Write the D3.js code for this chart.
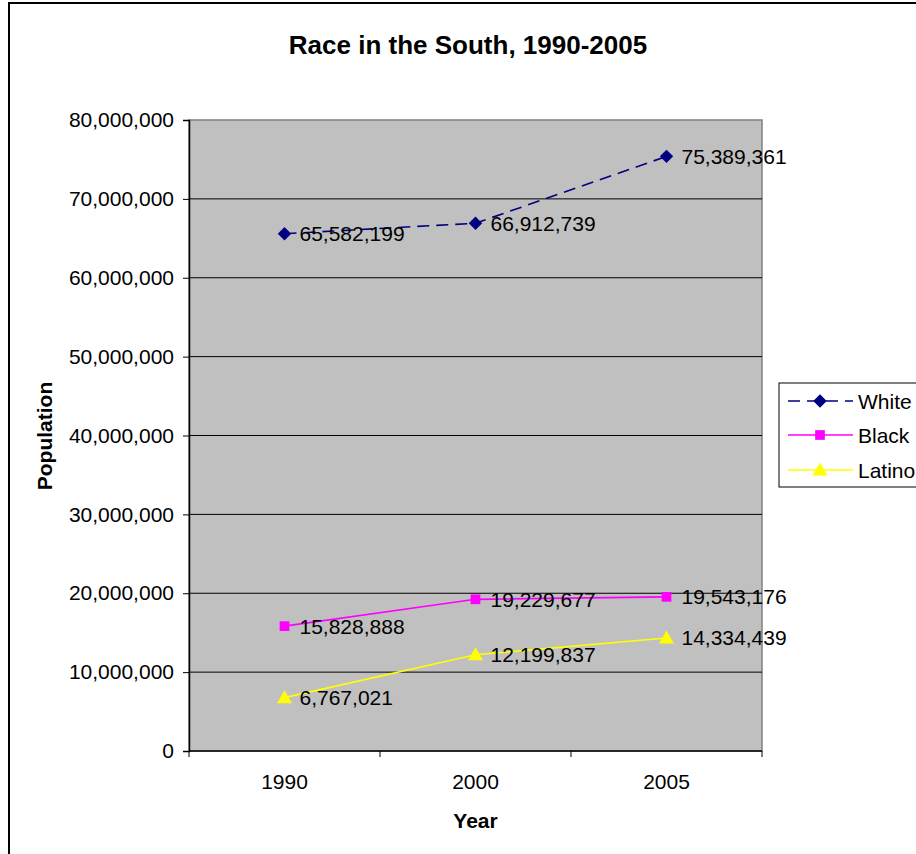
<!DOCTYPE html>
<html>
<head>
<meta charset="utf-8">
<script src="https://cdn.jsdelivr.net/npm/d3@7"></script>
<style>
  html, body { margin: 0; padding: 0; background: #fff; }
  svg { display: block; font-family: Arial, "Liberation Sans", sans-serif; }
</style>
</head>
<body>
<svg id="chart" width="916" height="854"></svg>
<script>
// Population by race in the South
const years = ["1990", "2000", "2005"];
const white = [65582199, 66912739, 75389361];
const black = [15828888, 19229677, 19543176];
const latino = [6767021, 12199837, 14334439];
const seriesNames = ["White", "Black", "Latino"];
const yTicks = [0, 10000000, 20000000, 30000000, 40000000, 50000000, 60000000, 70000000, 80000000];

const series = [
  { name: seriesNames[0], values: white, color: "#000080", dash: "12,7", shape: "diamond" },
  { name: seriesNames[1], values: black, color: "#FF00FF", dash: null, shape: "square" },
  { name: seriesNames[2], values: latino, color: "#FFFF00", dash: null, shape: "triangle" }
];

const svg = d3.select("#chart");
const plot = { left: 189, right: 762, top: 120, bottom: 751 };

// outer chart frame
svg.append("rect")
  .attr("x", 9).attr("y", 3).attr("width", 920).attr("height", 870)
  .attr("fill", "#fff").attr("stroke", "#000").attr("stroke-width", 2);

const x = d3.scaleBand().domain(years).range([plot.left, plot.right]);
const y = d3.scaleLinear().domain([0, 80000000]).range([plot.bottom, plot.top]);
const fmt = d3.format(",");

// plot area background
svg.append("rect")
  .attr("x", plot.left).attr("y", plot.top)
  .attr("width", plot.right - plot.left).attr("height", plot.bottom - plot.top)
  .attr("fill", "#C0C0C0").attr("stroke", "#808080").attr("stroke-width", 1.5);

// horizontal gridlines
svg.append("g").selectAll("line")
  .data(yTicks.filter(d => d > 0 && d < 80000000))
  .join("line")
  .attr("x1", plot.left).attr("x2", plot.right)
  .attr("y1", d => y(d)).attr("y2", d => y(d))
  .attr("stroke", "#000").attr("stroke-width", 1);

// y axis
const yAxis = svg.append("g")
  .attr("transform", `translate(${plot.left},0)`)
  .call(d3.axisLeft(y).tickValues(yTicks).tickFormat(fmt).tickSize(6).tickPadding(9));
yAxis.select(".domain").attr("stroke", "#000").attr("stroke-width", 1.5);
yAxis.selectAll(".tick line").attr("stroke", "#000");
yAxis.selectAll(".tick text")
  .attr("font-size", 21).attr("fill", "#000")
  .attr("font-family", "Arial, 'Liberation Sans', sans-serif");

// x axis: ticks at category boundaries, labels centred in each band
const xAxisG = svg.append("g").attr("transform", `translate(0,${plot.bottom})`);
xAxisG.append("line")
  .attr("x1", plot.left).attr("x2", plot.right)
  .attr("stroke", "#000").attr("stroke-width", 1.5);
const boundaries = years.map(d => x(d)).concat([x(years[years.length - 1]) + x.bandwidth()]);
xAxisG.selectAll("line.tick")
  .data(boundaries)
  .join("line").attr("class", "tick")
  .attr("x1", d => d).attr("x2", d => d)
  .attr("y1", 0).attr("y2", 6)
  .attr("stroke", "#000");
xAxisG.selectAll("text")
  .data(years)
  .join("text")
  .attr("x", d => x(d) + x.bandwidth() / 2)
  .attr("y", 38)
  .attr("text-anchor", "middle")
  .attr("font-size", 21)
  .text(d => d);

// series lines
const cx = d => x(d) + x.bandwidth() / 2;
const line = d3.line().x((v, i) => cx(years[i])).y(v => y(v));

function markerPath(shape) {
  if (shape === "diamond") return d3.symbol(d3.symbolDiamond2, 115)();
  if (shape === "square") return d3.symbol(d3.symbolSquare2, 120)();
  return "M0,-7.5L7.5,5.5L-7.5,5.5Z";
}

series.forEach(s => {
  const g = svg.append("g");
  g.append("path")
    .attr("d", line(s.values))
    .attr("fill", "none")
    .attr("stroke", s.color)
    .attr("stroke-width", 1.6)
    .attr("stroke-dasharray", s.dash);
  g.selectAll("path.m")
    .data(s.values)
    .join("path").attr("class", "m")
    .attr("d", markerPath(s.shape))
    .attr("transform", (v, i) => `translate(${cx(years[i])},${y(v)})`)
    .attr("fill", s.color);
  g.selectAll("text")
    .data(s.values)
    .join("text")
    .attr("x", (v, i) => cx(years[i]) + 15)
    .attr("y", v => y(v))
    .attr("dy", "0.36em")
    .attr("font-size", 21)
    .attr("fill", "#000")
    .text(v => fmt(v));
});

// title and axis titles
svg.append("text")
  .attr("x", 468).attr("y", 54)
  .attr("text-anchor", "middle")
  .attr("font-size", 26).attr("font-weight", "bold")
  .text("Race in the South, 1990-2005");

svg.append("text")
  .attr("transform", "translate(52,436) rotate(-90)")
  .attr("text-anchor", "middle")
  .attr("font-size", 21).attr("font-weight", "bold")
  .text("Population");

svg.append("text")
  .attr("x", x(years[1]) + x.bandwidth() / 2).attr("y", 828)
  .attr("text-anchor", "middle")
  .attr("font-size", 21).attr("font-weight", "bold")
  .text("Year");

// legend
const legend = svg.append("g");
legend.append("rect")
  .attr("x", 779).attr("y", 383).attr("width", 160).attr("height", 104)
  .attr("fill", "#fff").attr("stroke", "#000").attr("stroke-width", 1);
const rowY = [401, 435, 470];
series.forEach((s, i) => {
  legend.append("line")
    .attr("x1", 788).attr("x2", 853)
    .attr("y1", rowY[i]).attr("y2", rowY[i])
    .attr("stroke", s.color).attr("stroke-width", 1.6)
    .attr("stroke-dasharray", s.dash);
  legend.append("path")
    .attr("d", markerPath(s.shape))
    .attr("transform", `translate(820,${rowY[i]})`)
    .attr("fill", s.color);
  legend.append("text")
    .attr("x", 858).attr("y", rowY[i]).attr("dy", "0.36em")
    .attr("font-size", 21)
    .text(s.name);
});
</script>
</body>
</html>
